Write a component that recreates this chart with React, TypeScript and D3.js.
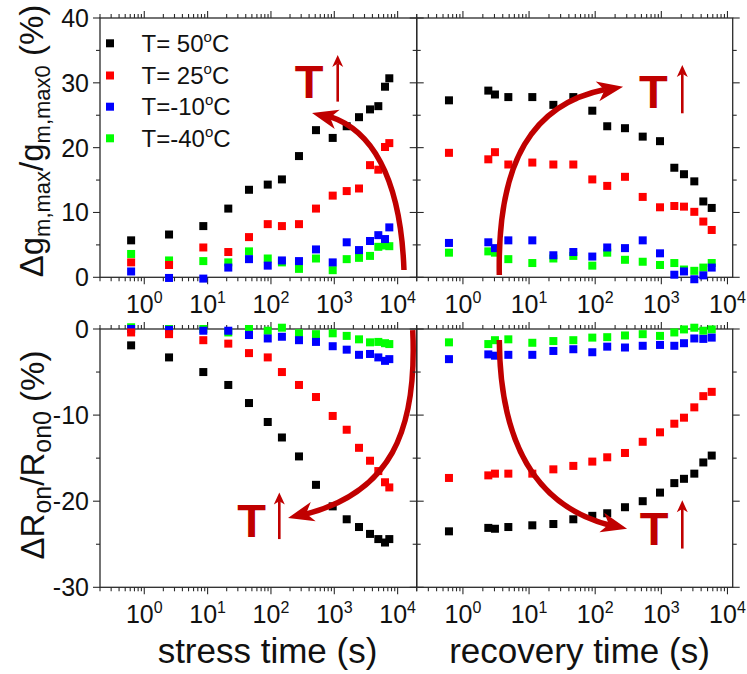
import React from "react";
import * as d3 from "d3";

// ---------- data ----------
const stressTime = [0.62, 2.46, 8.55, 21.2, 45, 89, 149, 277, 514, 944, 1570, 2455, 3664, 4955, 6320, 7390];
const recoveryTime = [0.615, 2.42, 3.05, 4.86, 11.2, 23.3, 46.7, 90.4, 152, 282, 523, 955, 1572, 2200, 3152, 4315, 5780];

const seriesNames = ["T= 50", "T= 25", "T=-10", "T=-40"];
const seriesColors = ["#000000", "#ff0000", "#0000ff", "#00ff00"];

// Δg_m,max / g_m,max0 (%) during stress
const gmStress50 = [5.7, 6.6, 7.9, 10.6, 13.5, 14.3, 15.1, 18.7, 22.7, 21.5, 23.3, 24.7, 25.9, 26.4, 29.4, 30.7];
const gmStress25 = [2.3, 1.9, 4.6, 3.9, 6.2, 8.2, 7.9, 8.2, 10.6, 12.6, 13.3, 13.7, 17.3, 16.6, 20.1, 20.7];
const gmStressM10 = [0.9, -0.1, -0.2, 1.5, 2.8, 1.8, 2.6, 2.5, 4.3, 2.3, 5.4, 4.2, 5.6, 6.5, 5.9, 7.7];
const gmStressM40 = [3.6, 2.6, 2.5, 2.3, 4.0, 2.9, 2.3, 1.3, 2.9, 1.1, 2.8, 3.0, 3.3, 4.7, 4.9, 4.8];

// Δg_m,max / g_m,max0 (%) during recovery
const gmRecov50 = [27.3, 28.8, 28.2, 27.8, 27.8, 26.6, 27.8, 25.7, 23.3, 23.0, 21.7, 21.0, 16.9, 15.9, 14.8, 11.7, 10.7];
const gmRecov25 = [19.2, 18.2, 19.3, 17.4, 17.7, 17.4, 17.4, 15.1, 14.1, 15.5, 12.4, 10.8, 11.0, 10.9, 10.1, 8.6, 7.3];
const gmRecovM10 = [5.3, 5.4, 4.5, 5.7, 5.7, 3.4, 3.9, 3.2, 4.6, 4.5, 5.7, 3.7, 0.4, 0.9, -0.3, 0.3, 1.5];
const gmRecovM40 = [3.8, 4.0, 3.8, 2.8, 2.2, 2.9, 3.3, 1.8, 3.8, 2.7, 2.4, 1.9, 2.2, 1.2, 1.0, 1.5, 2.2];

// ΔR_on / R_on0 (%) during stress
const ronStress50 = [-1.9, -3.3, -5.0, -6.5, -8.6, -10.8, -12.6, -14.8, -18.1, -20.6, -22.1, -23.0, -23.8, -24.4, -24.8, -24.4];
const ronStress25 = [-0.4, -0.6, -1.3, -1.7, -2.8, -3.3, -5.0, -6.5, -7.9, -10.1, -11.7, -13.8, -15.3, -16.5, -17.8, -18.4];
const ronStressM10 = [0, -0.1, -0.2, -0.2, -0.7, -1.1, -0.9, -1.3, -1.5, -2.0, -2.4, -3.0, -2.9, -3.3, -3.7, -3.5];
const ronStressM40 = [0.2, 0, 0, -0.4, 0, -0.2, 0.15, -0.5, -0.6, -0.5, -0.8, -1.2, -1.55, -1.5, -1.65, -1.75];

// ΔR_on / R_on0 (%) during recovery
const ronRecov50 = [-23.5, -23.1, -23.2, -23.0, -22.8, -22.65, -22.1, -21.7, -21.4, -20.7, -20.0, -19.0, -17.9, -17.4, -16.8, -15.5, -14.7];
const ronRecov25 = [-17.3, -17.0, -16.8, -16.8, -16.8, -16.3, -15.9, -15.4, -14.9, -14.4, -13.1, -12.0, -11.0, -10.3, -9.1, -7.8, -7.3];
const ronRecovM10 = [-3.5, -2.95, -3.1, -3.0, -3.0, -2.55, -2.35, -2.7, -2.05, -2.15, -1.95, -1.85, -1.95, -1.65, -1.1, -1.15, -1.0];
const ronRecovM40 = [-1.55, -1.75, -1.3, -1.2, -1.6, -1.4, -1.3, -1.0, -0.95, -0.75, -0.6, -0.8, -0.4, -0.05, 0.15, -0.2, -0.05];

// axis domains / ticks
const stressDomain: [number, number] = [0.2, 20000];
const recoveryDomain: [number, number] = [0.2, 12000];
const gmDomain: [number, number] = [0, 40];
const ronDomain: [number, number] = [-30, 0];
const gmTickLabels = [0, 10, 20, 30, 40];
const ronTickLabels = [-30, -20, -10, 0];
const xExponents = [0, 1, 2, 3, 4];

// annotation arrows (data coordinates: [time, value])
const arrowGmStress = [[12590, 1.13], [10900, 18.1], [2550, 24.6], [445, 25.35]];
const tGmStress = [402, 27.6];
const thinGmStress = [[1132, 27.1], [1132, 34.3]];

const arrowGmRecov = [[3.55, 0.35], [3.27, 19.6], [14.6, 28.1], [264, 29.4]];
const tGmRecov = [757, 26.1];
const thinGmRecov = [[2075, 25.3], [2075, 32.75]];

const arrowRonStress = [[17300, -0.12], [20900, -12.9], [6320, -19.9], [186, -21.95]];
const tRonStress = [49.7, -24.1];
const thinRonStress = [[135.5, -24.4], [135.5, -19.0]];

const arrowRonRecov = [[3.55, -1.28], [3.64, -14.05], [14.6, -21.6], [303, -23.2]];
const tRonRecov = [780, -25.1];
const thinRonRecov = [[2075, -25.5], [2075, -19.9]];

// ---------- helpers ----------
const FONT = "'Liberation Sans', Arial, Helvetica, sans-serif";
const AXIS = "#2a2a2a";
const DARKRED = "#c00000";

type P = [number, number];
const lerp = (a: P, b: P, t: number): P => [a[0] + (b[0] - a[0]) * t, a[1] + (b[1] - a[1]) * t];

function curvedArrow(pts: P[], headL: number, headW: number) {
  const [p0, p1, p2, p3] = pts;
  const bez = (t: number): P => {
    const a = lerp(p0, p1, t), b = lerp(p1, p2, t), c = lerp(p2, p3, t);
    const d = lerp(a, b, t), e = lerp(b, c, t);
    return lerp(d, e, t);
  };
  let t = 1;
  while (t > 0.5) {
    const q = bez(t);
    if (Math.hypot(p3[0] - q[0], p3[1] - q[1]) >= headL * 0.7) break;
    t -= 0.002;
  }
  const a = lerp(p0, p1, t), b = lerp(p1, p2, t), c = lerp(p2, p3, t);
  const d = lerp(a, b, t), e = lerp(b, c, t);
  const f = lerp(d, e, t);
  const path = `M${p0[0]},${p0[1]} C${a[0]},${a[1]} ${d[0]},${d[1]} ${f[0]},${f[1]}`;
  const back = bez(Math.max(0, t - 0.05));
  let dx = p3[0] - back[0], dy = p3[1] - back[1];
  const len = Math.hypot(dx, dy) || 1;
  dx /= len; dy /= len;
  const px = -dy, py = dx;
  const base: P = [p3[0] - dx * headL, p3[1] - dy * headL];
  const notch: P = [p3[0] - dx * headL * 0.72, p3[1] - dy * headL * 0.72];
  const head = [
    p3,
    [base[0] + px * headW / 2, base[1] + py * headW / 2],
    notch,
    [base[0] - px * headW / 2, base[1] - py * headW / 2],
  ].map((q) => q.join(",")).join(" ");
  return { path, head };
}

type PanelProps = {
  x0: number; x1: number; y0: number; y1: number;
  xDomain: [number, number]; yDomain: [number, number];
  yLabels: number[] | null;
  times: number[]; series: number[][];
  arrow: number[][]; tPos: number[]; thin: number[][];
};

function Panel(props: PanelProps) {
  const { x0, x1, y0, y1, xDomain, yDomain, yLabels, times, series, arrow, tPos, thin } = props;
  const x = d3.scaleLog().domain(xDomain).range([x0, x1]);
  const y = d3.scaleLinear().domain(yDomain).range([y1, y0]);

  const xt: { v: number; major: boolean }[] = [];
  for (let e = -1; e <= 5; e++)
    for (let m = 1; m <= 9; m++) {
      const v = m * Math.pow(10, e);
      if (v >= xDomain[0] * 0.999 && v <= xDomain[1] * 1.001) xt.push({ v, major: m === 1 });
    }
  const yt = d3.range(yDomain[0], yDomain[1] + 0.01, 5).map((v) => ({ v, major: Math.abs(v % 10) < 1e-6 }));
  const MJ = 7, MN = 4;

  const ap = arrow.map((d) => [x(d[0]), y(d[1])] as P);
  const big = curvedArrow(ap, 26, 20);
  const tb: P = [x(thin[0][0]), y(thin[0][1])];
  const tt: P = [x(thin[1][0]), y(thin[1][1])];
  const thinHead = curvedArrow([tb, lerp(tb, tt, 0.33), lerp(tb, tt, 0.66), tt], 12, 11);

  const ms = 8;
  const order = [3, 2, 1, 0];

  return (
    <g>
      <rect x={x0} y={y0} width={x1 - x0} height={y1 - y0} fill="none" stroke={AXIS} strokeWidth={1.3} />
      {xt.map((t, i) => {
        const px = x(t.v);
        const l = t.major ? MJ : MN;
        return (
          <g key={"xt" + i} stroke={AXIS} strokeWidth={1.1}>
            <line x1={px} x2={px} y1={y1} y2={y1 + l} />
            <line x1={px} x2={px} y1={y0} y2={y0 - l} />
          </g>
        );
      })}
      {yt.map((t, i) => {
        const py = y(t.v);
        const l = t.major ? MJ : MN;
        return (
          <g key={"yt" + i} stroke={AXIS} strokeWidth={1.1}>
            <line x1={x0} x2={x0 - l} y1={py} y2={py} />
            <line x1={x1} x2={x1 + l} y1={py} y2={py} />
          </g>
        );
      })}
      {xExponents.map((e) => (
        <text key={"xl" + e} x={x(Math.pow(10, e))} y={y1 + 36} textAnchor="middle" fontSize={25} fontFamily={FONT} fill="#111">
          10<tspan dy={-10} fontSize={16}>{e}</tspan>
        </text>
      ))}
      {yLabels &&
        yLabels.map((v) => (
          <text key={"yl" + v} x={x0 - 11} y={y(v)} dy="0.36em" textAnchor="end" fontSize={25} fontFamily={FONT} fill="#111">
            {v}
          </text>
        ))}
      {order.map((si) => (
        <g key={"s" + si} fill={seriesColors[si]}>
          {series[si].map((v, i) => (
            <rect key={i} x={x(times[i]) - ms / 2} y={y(v) - ms / 2} width={ms} height={ms} />
          ))}
        </g>
      ))}
      <path d={big.path} fill="none" stroke={DARKRED} strokeWidth={5.5} />
      <polygon points={big.head} fill={DARKRED} />
      <path d={thinHead.path} fill="none" stroke={DARKRED} strokeWidth={2.6} />
      <polygon points={thinHead.head} fill={DARKRED} />
      <text x={x(tPos[0])} y={y(tPos[1])} textAnchor="middle" fontSize={47} fontWeight="bold" fontFamily={FONT} fill={DARKRED}>
        T
      </text>
    </g>
  );
}

export default function App() {
  const L0 = 100, L1 = 416.7, R1 = 732.7;
  const T0 = 18, T1 = 277.3, B0 = 329, B1 = 587.3;
  const legendY = [43.3, 75.5, 106.7, 138.3];
  return (
    <svg width={747} height={674} viewBox="0 0 747 674"
      style={{ position: "absolute", left: 0, top: 0, background: "#fff", display: "block" }}>
      <rect x={0} y={0} width={747} height={674} fill="#fff" />
      <Panel x0={L0} x1={L1} y0={T0} y1={T1} xDomain={stressDomain} yDomain={gmDomain} yLabels={gmTickLabels}
        times={stressTime} series={[gmStress50, gmStress25, gmStressM10, gmStressM40]}
        arrow={arrowGmStress} tPos={tGmStress} thin={thinGmStress} />
      <Panel x0={L1} x1={R1} y0={T0} y1={T1} xDomain={recoveryDomain} yDomain={gmDomain} yLabels={null}
        times={recoveryTime} series={[gmRecov50, gmRecov25, gmRecovM10, gmRecovM40]}
        arrow={arrowGmRecov} tPos={tGmRecov} thin={thinGmRecov} />
      <Panel x0={L0} x1={L1} y0={B0} y1={B1} xDomain={stressDomain} yDomain={ronDomain} yLabels={ronTickLabels}
        times={stressTime} series={[ronStress50, ronStress25, ronStressM10, ronStressM40]}
        arrow={arrowRonStress} tPos={tRonStress} thin={thinRonStress} />
      <Panel x0={L1} x1={R1} y0={B0} y1={B1} xDomain={recoveryDomain} yDomain={ronDomain} yLabels={null}
        times={recoveryTime} series={[ronRecov50, ronRecov25, ronRecovM10, ronRecovM40]}
        arrow={arrowRonRecov} tPos={tRonRecov} thin={thinRonRecov} />

      {/* legend */}
      {seriesNames.map((n, i) => (
        <g key={"lg" + i}>
          <rect x={110 - 4} y={legendY[i] - 4} width={8} height={8} fill={seriesColors[i]} />
          <text x={141.5} y={legendY[i]} dy="0.36em" fontSize={24} fontFamily={FONT} fill="#111">
            {n}
            <tspan dy={-10} fontSize={15}>o</tspan>
            <tspan dy={10}>C</tspan>
          </text>
        </g>
      ))}

      {/* y-axis titles */}
      <text transform="translate(43,141) rotate(-90)" textAnchor="middle" fontSize={33} fontFamily={FONT} fill="#111"
        style={{ whiteSpace: "pre" }}>
        Δg<tspan fontSize={22} dy={7}>m,max</tspan>
        <tspan dy={-7}>/g</tspan>
        <tspan fontSize={22} dy={7}>m,max0</tspan>
        <tspan dy={-7}> (%)</tspan>
      </text>
      <text transform="translate(44,455) rotate(-90)" textAnchor="middle" fontSize={33} fontFamily={FONT} fill="#111"
        style={{ whiteSpace: "pre" }}>
        ΔR<tspan fontSize={25} dy={7}>on</tspan>
        <tspan dy={-7}>/R</tspan>
        <tspan fontSize={25} dy={7}>on0</tspan>
        <tspan dy={-7}> (%)</tspan>
      </text>

      {/* x-axis titles */}
      <text x={267.5} y={663} textAnchor="middle" fontSize={35} fontFamily={FONT} fill="#111">stress time (s)</text>
      <text x={579.5} y={663} textAnchor="middle" fontSize={35} fontFamily={FONT} fill="#111">recovery time (s)</text>
    </svg>
  );
}
